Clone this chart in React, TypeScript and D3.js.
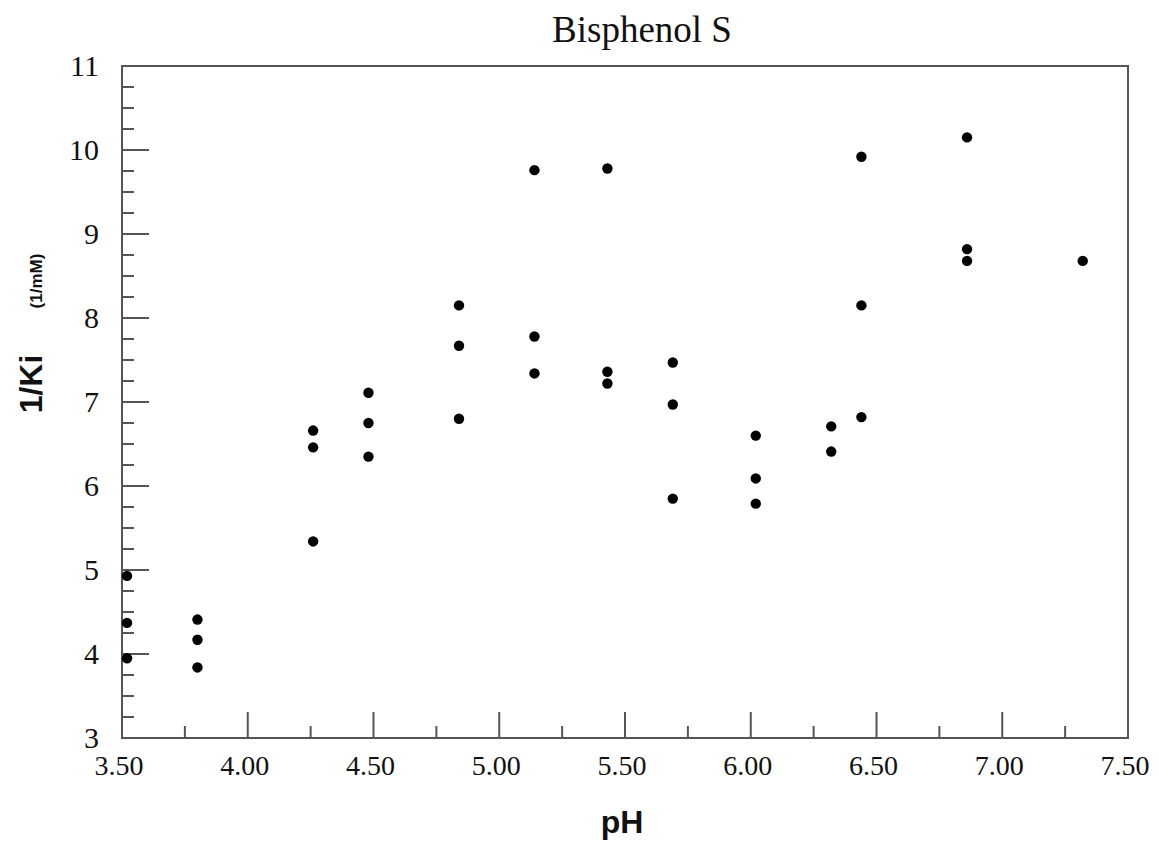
import React from "react";
import * as d3 from "d3";

const phValues = [
  3.52, 3.52, 3.52,
  3.8, 3.8, 3.8,
  4.26, 4.26, 4.26,
  4.48, 4.48, 4.48,
  4.84, 4.84, 4.84,
  5.14, 5.14, 5.14,
  5.43, 5.43, 5.43,
  5.69, 5.69, 5.69,
  6.02, 6.02, 6.02,
  6.32, 6.32,
  6.44, 6.44, 6.44,
  6.86, 6.86, 6.86,
  7.32,
];
const invKiValues = [
  4.93, 4.37, 3.95,
  4.41, 4.17, 3.84,
  6.66, 6.46, 5.34,
  7.11, 6.75, 6.35,
  8.15, 7.67, 6.8,
  9.76, 7.78, 7.34,
  9.78, 7.36, 7.22,
  7.47, 6.97, 5.85,
  6.6, 6.09, 5.79,
  6.71, 6.41,
  9.92, 8.15, 6.82,
  10.15, 8.82, 8.68,
  8.68,
];
const xMajorTicks = [3.5, 4.0, 4.5, 5.0, 5.5, 6.0, 6.5, 7.0, 7.5];
const yMajorTicks = [3, 4, 5, 6, 7, 8, 9, 10, 11];

const W = 1159;
const H = 844;
const left = 122;
const right = 1128;
const top = 66;
const bottom = 738;

export default function App() {
  const x = d3.scaleLinear().domain([3.5, 7.5]).range([left, right]);
  const y = d3.scaleLinear().domain([3, 11]).range([bottom, top]);
  const xMinor = d3.range(3.5, 7.5001, 0.25).filter((v) => Math.abs((v * 2) % 1) > 0.01);
  const yMinor = d3.range(3, 11.001, 0.25).filter((v) => Math.abs(v % 1) > 0.01);
  const axisColor = "#555";
  const points = phValues.map((p, i) => ({ p, v: invKiValues[i] }));

  return (
    <svg width={W} height={H} style={{ position: "absolute", left: 0, top: 0, background: "#fff" }}>
      <text x={642} y={42} textAnchor="middle" fontFamily="'Liberation Serif', serif" fontSize={37} fill="#111">
        Bisphenol S
      </text>
      {/* frame */}
      <rect x={left} y={top} width={right - left} height={bottom - top} fill="none" stroke={axisColor} strokeWidth={2} />
      {/* x ticks */}
      {xMajorTicks.map((t) => (
        <g key={"xm" + t}>
          <line x1={x(t)} x2={x(t)} y1={bottom} y2={bottom - 26} stroke={axisColor} strokeWidth={2} />
          <text x={x(t) - 3} y={775} textAnchor="middle" fontFamily="'Liberation Serif', serif" fontSize={28} fill="#111">
            {t.toFixed(2)}
          </text>
        </g>
      ))}
      {xMinor.map((t) => (
        <line key={"xn" + t} x1={x(t)} x2={x(t)} y1={bottom} y2={bottom - 12} stroke={axisColor} strokeWidth={2} />
      ))}
      {/* y ticks */}
      {yMajorTicks.map((t) => (
        <g key={"ym" + t}>
          <line x1={left} x2={left + 27} y1={y(t)} y2={y(t)} stroke={axisColor} strokeWidth={2} />
          <text x={99} y={y(t) + 10} textAnchor="end" fontFamily="'Liberation Serif', serif" fontSize={30} fill="#111">
            {t}
          </text>
        </g>
      ))}
      {yMinor.map((t) => (
        <line key={"yn" + t} x1={left} x2={left + 12} y1={y(t)} y2={y(t)} stroke={axisColor} strokeWidth={2} />
      ))}
      {/* points */}
      {points.map((d, i) => (
        <circle key={i} cx={x(d.p)} cy={y(d.v)} r={5.2} fill="#000" />
      ))}
      {/* axis titles */}
      <text
        transform="translate(42,384) rotate(-90)"
        textAnchor="middle"
        fontFamily="'Liberation Sans', Arial, sans-serif"
        fontWeight="bold"
        fontSize={32}
        fill="#111"
      >
        1/Ki
      </text>
      <text
        transform="translate(42,281) rotate(-90)"
        textAnchor="middle"
        fontFamily="'Liberation Sans', Arial, sans-serif"
        fontWeight="bold"
        fontSize={17}
        fill="#111"
      >
        (1/mM)
      </text>
      <text x={622} y={833} textAnchor="middle" fontFamily="'Liberation Sans', Arial, sans-serif" fontWeight="bold" fontSize={32} fill="#111">
        pH
      </text>
    </svg>
  );
}
